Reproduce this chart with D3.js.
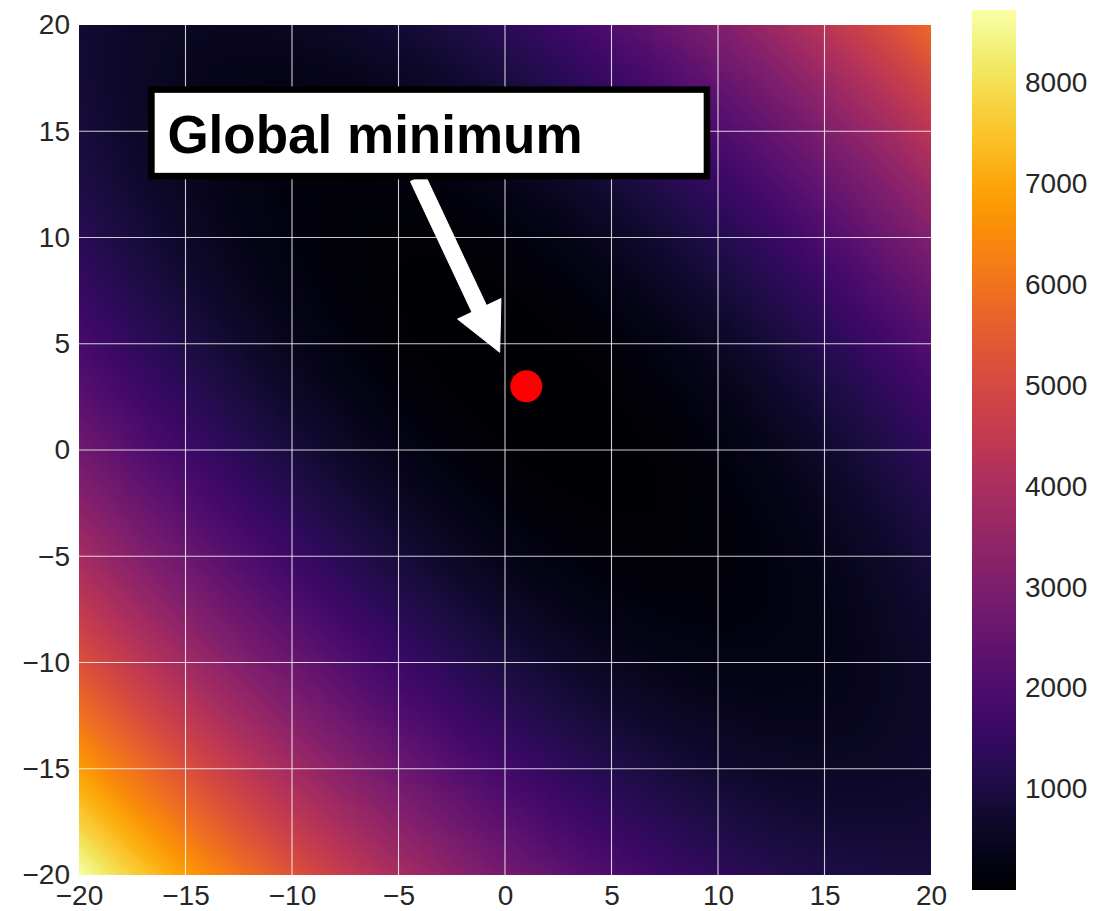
<!DOCTYPE html>
<html><head><meta charset="utf-8">
<script src="https://cdn.jsdelivr.net/npm/d3@7"></script>
<style>body{margin:0;background:#fff}svg{display:block}</style>
</head><body><svg id="c" width="1101" height="911"></svg>
<script>
// ---- data ----
const xDomain = [-20, 20];
const yDomain = [-20, 20];
const xTickValues = [-20, -15, -10, -5, 0, 5, 10, 15, 20];
const yTickValues = [-20, -15, -10, -5, 0, 5, 10, 15, 20];
const colorbarTicks = [1000, 2000, 3000, 4000, 5000, 6000, 7000, 8000];
const minimumPoint = [1, 3];
const annotationText = "Global minimum";
const arrowTail = [-4.1, 12.8];
const arrowTip = [-0.25, 4.6];
const boxTopLeft = [-16.6, 16.96];
const boxBottomRight = [9.48, 12.89];
const textAnchorPt = [-15.85, 13.98];
const gridSize = 400;
// Booth function: (x + 2y - 7)^2 + (2x + y - 5)^2
const boothA = [1, 2, -7];
const boothB = [2, 1, -5];
function surface(x, y) {
  return (boothA[0]*x + boothA[1]*y + boothA[2])**2 + (boothB[0]*x + boothB[1]*y + boothB[2])**2;
}

// ---- layout ----
const plot = {left: 79, right: 931, top: 25, bottom: 875};
const cb = {left: 972, right: 1016, top: 10, bottom: 890};
const font = "'Liberation Sans', Arial, sans-serif";
const svg = d3.select("#c");

const x = d3.scaleLinear().domain(xDomain).range([plot.left, plot.right]);
const y = d3.scaleLinear().domain(yDomain).range([plot.bottom, plot.top]);

// grid values
const values = new Float64Array(gridSize * gridSize);
for (let j = 0; j < gridSize; j++) {
  const yv = yDomain[1] - (j + 0.5) / gridSize * (yDomain[1] - yDomain[0]);
  for (let i = 0; i < gridSize; i++) {
    const xv = xDomain[0] + (i + 0.5) / gridSize * (xDomain[1] - xDomain[0]);
    values[j * gridSize + i] = surface(xv, yv);
  }
}
const vmin = surface(minimumPoint[0], minimumPoint[1]);
const vmax = surface(xDomain[0], yDomain[0]);
const color = d3.scaleSequential(d3.interpolateInferno).domain([vmin, vmax]);

const canvas = document.createElement("canvas");
canvas.width = gridSize; canvas.height = gridSize;
const ctx = canvas.getContext("2d");
const img = ctx.createImageData(gridSize, gridSize);
for (let k = 0; k < values.length; k++) {
  const c = d3.rgb(color(values[k]));
  img.data[4*k] = c.r; img.data[4*k+1] = c.g; img.data[4*k+2] = c.b; img.data[4*k+3] = 255;
}
ctx.putImageData(img, 0, 0);
svg.append("image")
  .attr("x", plot.left).attr("y", plot.top)
  .attr("width", plot.right - plot.left).attr("height", plot.bottom - plot.top)
  .attr("preserveAspectRatio", "none")
  .attr("href", canvas.toDataURL());

// grid lines
const grid = svg.append("g").attr("stroke", "#fff").attr("stroke-opacity", 0.8).attr("stroke-width", 1.1);
grid.selectAll(".gx").data(xTickValues.slice(1, -1)).join("line")
  .attr("x1", d => x(d)).attr("x2", d => x(d)).attr("y1", plot.top).attr("y2", plot.bottom);
grid.selectAll(".gy").data(yTickValues.slice(1, -1)).join("line")
  .attr("y1", d => y(d)).attr("y2", d => y(d)).attr("x1", plot.left).attr("x2", plot.right);

// axes
const fmt = d3.format("d");
const xAxis = svg.append("g").attr("transform", `translate(0,${plot.bottom})`)
  .call(d3.axisBottom(x).tickValues(xTickValues).tickSize(0).tickPadding(10).tickFormat(d => fmt(d)));
const yAxis = svg.append("g").attr("transform", `translate(${plot.left},0)`)
  .call(d3.axisLeft(y).tickValues(yTickValues).tickSize(0).tickPadding(9).tickFormat(d => fmt(d)));
[xAxis, yAxis].forEach(a => {
  a.select(".domain").remove();
  a.selectAll("text").attr("font-family", font).attr("font-size", 28).attr("fill", "#262626");
});

// colorbar
const defs = svg.append("defs");
const grad = defs.append("linearGradient").attr("id", "cbg")
  .attr("x1", 0).attr("x2", 0).attr("y1", 1).attr("y2", 0);
d3.range(0, 1.0001, 0.02).forEach(t => {
  grad.append("stop").attr("offset", t).attr("stop-color", d3.interpolateInferno(t));
});
svg.append("rect").attr("x", cb.left).attr("y", cb.top)
  .attr("width", cb.right - cb.left).attr("height", cb.bottom - cb.top)
  .attr("fill", "url(#cbg)");
const cy = d3.scaleLinear().domain([vmin, vmax]).range([cb.bottom, cb.top]);
const cAxis = svg.append("g").attr("transform", `translate(${cb.right},0)`)
  .call(d3.axisRight(cy).tickValues(colorbarTicks).tickSize(0).tickPadding(9).tickFormat(d => fmt(d)));
cAxis.select(".domain").remove();
cAxis.selectAll("text").attr("font-family", font).attr("font-size", 28).attr("fill", "#262626");

// arrow
const tx = x(arrowTail[0]), ty = y(arrowTail[1]);
const hx = x(arrowTip[0]), hy = y(arrowTip[1]);
const len = Math.hypot(hx - tx, hy - ty);
const ux = (hx - tx) / len, uy = (hy - ty) / len;
const px = -uy, py = ux;
const shaftW = 16, headW = 48, headL = 48;
const bx = hx - ux * headL, by = hy - uy * headL;
const pts = [
  [tx + px*shaftW/2, ty + py*shaftW/2],
  [bx + px*shaftW/2, by + py*shaftW/2],
  [bx + px*headW/2, by + py*headW/2],
  [hx, hy],
  [bx - px*headW/2, by - py*headW/2],
  [bx - px*shaftW/2, by - py*shaftW/2],
  [tx - px*shaftW/2, ty - py*shaftW/2]
];
svg.append("polygon").attr("points", pts.map(p => p.join(",")).join(" "))
  .attr("fill", "#fff").attr("stroke", "#fff").attr("stroke-width", 1);

// annotation box
svg.append("rect")
  .attr("x", x(boxTopLeft[0])).attr("y", y(boxTopLeft[1]))
  .attr("width", x(boxBottomRight[0]) - x(boxTopLeft[0]))
  .attr("height", y(boxBottomRight[1]) - y(boxTopLeft[1]))
  .attr("fill", "#fff").attr("stroke", "#000").attr("stroke-width", 6.5);
svg.append("text").attr("x", x(textAnchorPt[0])).attr("y", y(textAnchorPt[1]))
  .attr("font-family", font).attr("font-size", 53).attr("font-weight", "bold")
  .attr("fill", "#000").text(annotationText);

// minimum point
svg.append("circle").attr("cx", x(minimumPoint[0])).attr("cy", y(minimumPoint[1]))
  .attr("r", 16).attr("fill", "#ff0000");
</script></body></html>
